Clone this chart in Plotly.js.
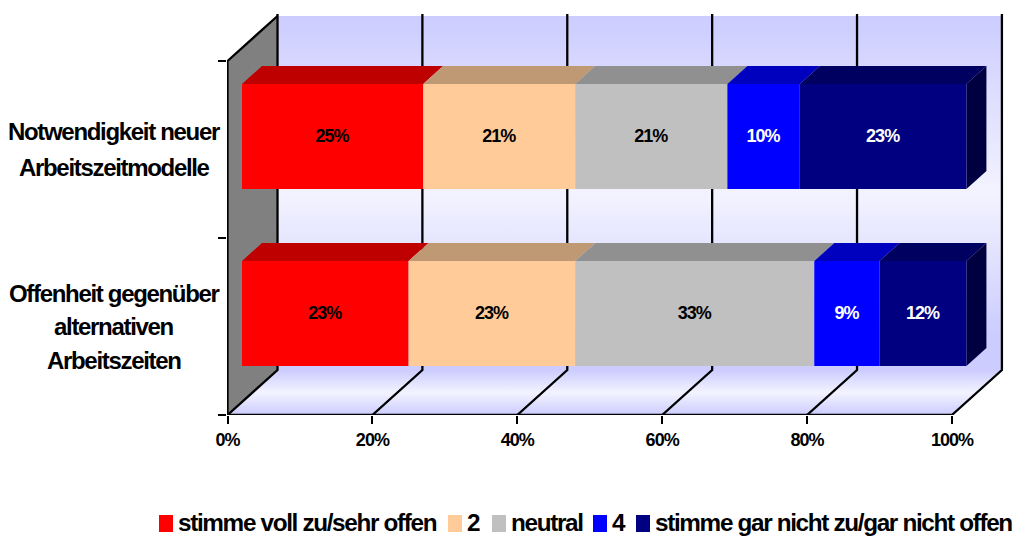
<!DOCTYPE html>
<html>
<head>
<meta charset="utf-8">
<script src="https://cdn.plot.ly/plotly-3.0.1.min.js"></script>
<style>
  html, body { margin: 0; padding: 0; background: #fff; }
  #chart { width: 1015px; height: 536px; }
  /* tight tracking on all chart text */
  svg text { letter-spacing: -0.055em; }
</style>
</head>
<body>
<div id="chart"></div>
<script>
// Rows from top to bottom, each line of a label kept separate
var categories = [
  ['Notwendigkeit neuer', 'Arbeitszeitmodelle'],
  ['Offenheit gegenüber', 'alternativen', 'Arbeitszeiten']
];
var seriesNames = ['stimme voll zu/sehr offen', '2', 'neutral', '4', 'stimme gar nicht zu/gar nicht offen'];
var fullAgree = [25, 23];
var two = [21, 23];
var neutral = [21, 33];
var four = [10, 9];
var fullDisagree = [23, 12];
var xTicks = [0, 20, 40, 60, 80, 100];

var seriesValues = [fullAgree, two, neutral, four, fullDisagree];
var frontColors = ['#ff0000', '#ffcc99', '#c0c0c0', '#0000ff', '#000080'];
var topColors = ['#bf0000', '#bf9973', '#909090', '#0000bf', '#000060'];
var sideColor = '#000040';
var labelColors = ['#000', '#000', '#000', '#fff', '#fff'];

// Plot frame in pixels and the oblique projection used for the 3D look
var M = { l: 227, r: 5, t: 10, b: 121 };
var W = 1015 - M.l - M.r, H = 536 - M.t - M.b;
var pxPerX = 7.244, pxPerY = 177;
var DX = 50 / pxPerX, DY = 45 / pxPerY;       // full depth of the chart box
var rowCentres = [1.5, 0.5];                  // band centres on the front plane
var barNear = 0.29, barFar = 0.69;            // bar depth inside the box
var barThick = 105 / pxPerY;
var font = 'Liberation Sans, Arial, sans-serif';
var xRange = [-0.07, W / pxPerX - 0.07];
var yRange = [0, H / pxPerY];

function poly(xs, ys, color, extra) {
  var t = { type: 'scatter', mode: 'none', x: xs, y: ys, fill: 'toself', fillcolor: color,
            hoverinfo: 'skip', showlegend: false, cliponaxis: false };
  for (var k in extra) t[k] = extra[k];
  return t;
}

var traces = [];

// Back wall, floor and left wall
var wallFade = { type: 'vertical', colorscale: [[0, '#ccccff'], [0.1, '#ccccff'], [0.5, '#f3f3ff'], [1, '#ccccff']] };
var floorFade = { type: 'vertical', colorscale: [[0, '#ccccff'], [0.5, '#f3f3ff'], [1, '#ccccff']] };
traces.push(poly([DX, 100 + DX, 100 + DX, DX, DX], [DY, DY, 2 + DY, 2 + DY, DY], '#ccccff', { fillgradient: wallFade }));
traces.push(poly([0, 100, 100 + DX, DX, 0], [0, 0, DY, DY, 0], '#ccccff', { fillgradient: floorFade }));
traces.push(poly([0, DX, DX, 0, 0], [0, DY, 2 + DY, 2, 0], '#808080'));

// Grid lines run across the floor and up the back wall
var gx = [], gy = [];
xTicks.forEach(function (t) {
  gx.push(t, t + DX, t + DX, null);
  gy.push(0, DY, 2 + DY + 0.012, null);
});
traces.push({ type: 'scatter', mode: 'lines', x: gx, y: gy, line: { color: '#000', width: 2.3 },
              hoverinfo: 'skip', showlegend: false, cliponaxis: false });

// Front axis line, left axis line and the upper edge of the left wall
traces.push({ type: 'scatter', mode: 'lines', x: [100, 0, 0, DX], y: [0, 0, 2, 2 + DY],
              line: { color: '#000', width: 2.3 }, hoverinfo: 'skip', showlegend: false, cliponaxis: false });

// Top and end faces of the stacked bars
rowCentres.forEach(function (yc, r) {
  var cum = 0;
  var yTop = yc + barThick / 2, yBot = yc - barThick / 2;
  seriesValues.forEach(function (vals, s) {
    var a = cum, b = cum + vals[r];
    traces.push(poly(
      [a + barNear * DX, b + barNear * DX, b + barFar * DX, a + barFar * DX, a + barNear * DX],
      [yTop + barNear * DY, yTop + barNear * DY, yTop + barFar * DY, yTop + barFar * DY, yTop + barNear * DY],
      topColors[s]));
    cum = b;
  });
  traces.push(poly(
    [cum + barNear * DX, cum + barFar * DX, cum + barFar * DX, cum + barNear * DX, cum + barNear * DX],
    [yBot + barNear * DY, yBot + barFar * DY, yTop + barFar * DY, yTop + barNear * DY, yBot + barNear * DY],
    sideColor));
});

// Front faces sit on an overlaid subplot so they draw above the walls and grid
var running = rowCentres.map(function () { return 0; });
seriesValues.forEach(function (vals, s) {
  traces.push({
    type: 'bar', orientation: 'h', name: seriesNames[s], xaxis: 'x2', yaxis: 'y2',
    x: vals,
    y: rowCentres.map(function (yc) { return yc + barNear * DY; }),
    base: running.map(function (c) { return c + barNear * DX; }),
    width: barThick,
    marker: { color: frontColors[s], line: { width: 0 } },
    text: vals.map(function (v) { return v + '%'; }),
    textposition: 'inside', insidetextanchor: 'middle', textangle: 0, constraintext: 'none',
    insidetextfont: { family: font, size: 18, weight: 700, color: labelColors[s] },
    hoverinfo: 'skip', showlegend: false, cliponaxis: false
  });
  running = running.map(function (c, i) { return c + vals[i]; });
});

// Row labels, one annotation per line so the line pitch can be set directly
var annotations = [];
var linePitch = [35.5, 33.5];
categories.forEach(function (lines, r) {
  lines.forEach(function (txt, i) {
    annotations.push({
      text: txt, xref: 'paper', yref: 'y', x: (114 - M.l) / W, y: rowCentres[r],
      yshift: ((lines.length - 1) / 2 - i) * linePitch[r],
      xanchor: 'center', yanchor: 'middle', showarrow: false, borderpad: 0,
      font: { family: font, size: 24, weight: 700, color: '#000' }
    });
  });
});

// Legend row along the bottom edge
var swatchLeft = [159, 448, 492, 593, 636];
var shapes = [];
function paperX(px) { return (px - M.l) / W; }
function paperY(py) { return 1 - (py - M.t) / H; }
seriesNames.forEach(function (name, s) {
  shapes.push({ type: 'rect', xref: 'paper', yref: 'paper', layer: 'above',
    x0: paperX(swatchLeft[s]), x1: paperX(swatchLeft[s] + 14),
    y0: paperY(532), y1: paperY(515),
    fillcolor: frontColors[s], line: { width: 0 } });
  annotations.push({
    text: name, xref: 'paper', yref: 'paper', x: paperX(swatchLeft[s] + 17.5), y: paperY(522.5),
    xanchor: 'left', yanchor: 'middle', showarrow: false, borderpad: 0,
    font: { family: font, size: 24.3, weight: 700, color: '#000' }
  });
});

var layout = {
  width: 1015, height: 536,
  margin: M,
  paper_bgcolor: '#fff', plot_bgcolor: 'rgba(0,0,0,0)',
  barmode: 'overlay',
  showlegend: false,
  xaxis: {
    range: xRange, showgrid: false, zeroline: false, showline: false,
    tickmode: 'array', tickvals: xTicks, ticktext: xTicks.map(function (t) { return t + '%'; }),
    ticks: 'outside', ticklen: 8, tickwidth: 2, tickcolor: '#000',
    tickfont: { family: font, size: 18, weight: 700, color: '#000' }
  },
  yaxis: {
    range: yRange, showgrid: false, zeroline: false, showline: false,
    showticklabels: false,
    tickmode: 'array', tickvals: [0, 1, 2], ticktext: ['', '', ''],
    ticks: 'outside', ticklen: 8, tickwidth: 2, tickcolor: '#000'
  },
  xaxis2: { overlaying: 'x', range: xRange, visible: false },
  yaxis2: { overlaying: 'y', range: yRange, visible: false },
  annotations: annotations,
  shapes: shapes
};

Plotly.newPlot('chart', traces, layout, { displayModeBar: false, staticPlot: true });
</script>
</body>
</html>
